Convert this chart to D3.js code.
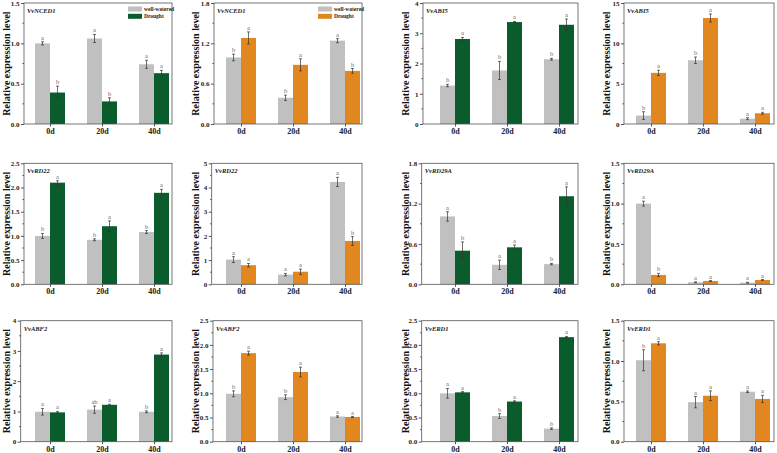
<!DOCTYPE html>
<html>
<head>
<meta charset="utf-8">
<script src="https://cdn.jsdelivr.net/npm/d3@7"></script>
<style>
  body { margin: 0; background: #fff; }
  text { font-family: "Liberation Serif", "Times New Roman", serif; }
</style>
</head>
<body>
<div id="chart"></div>
<script>
var W = 777, H = 453;

var categories = ["0d", "20d", "40d"];
var genes = ["VvNCED1", "VvNCED1", "VvABI5", "VvABI5",
             "VvRD22", "VvRD22", "VvRD29A", "VvRD29A",
             "VvABF2", "VvABF2", "VvERD1", "VvERD1"];
// which panels use the orange (true) or green (false) drought colour
var orangeDrought = [false, true, false, true, false, true, false, true, false, true, false, true];

var yMax = [1.5, 1.8, 4, 15, 2.5, 5, 1.8, 1.5, 4, 2.5, 2.5, 1.5];
var yTicks = [
    ["0.0", "0.5", "1.0", "1.5"], ["0.0", "0.6", "1.2", "1.8"], ["0", "1", "2", "3", "4"], ["0", "5", "10", "15"],
    ["0.0", "0.5", "1.0", "1.5", "2.0", "2.5"], ["0", "1", "2", "3", "4", "5"], ["0.0", "0.6", "1.2", "1.8"], ["0.0", "0.5", "1.0", "1.5"],
    ["0", "1", "2", "3", "4"], ["0.0", "0.5", "1.0", "1.5", "2.0", "2.5"], ["0.0", "0.5", "1.0", "1.5", "2.0", "2.5"], ["0.0", "0.5", "1.0", "1.5"]
];

var wellWatered = [
    [1.00, 1.06, 0.74], [0.99, 0.39, 1.24], [1.27, 1.77, 2.14], [1.04, 7.90, 0.66],
    [1.00, 0.92, 1.08], [1.02, 0.40, 4.23], [1.01, 0.29, 0.30], [1.00, 0.025, 0.02],
    [0.99, 1.06, 0.99], [0.99, 0.92, 0.52], [1.00, 0.53, 0.27], [1.01, 0.49, 0.62]
];
var wellWateredErr = [
    [0.02, 0.05, 0.05], [0.05, 0.04, 0.03], [0.04, 0.30, 0.03], [0.48, 0.40, 0.12],
    [0.05, 0.02, 0.03], [0.12, 0.05, 0.19], [0.07, 0.07, 0.01], [0.03, 0.005, 0.005],
    [0.11, 0.12, 0.03], [0.06, 0.05, 0.015], [0.10, 0.05, 0.015], [0.13, 0.07, 0.01]
];
var drought = [
    [0.39, 0.28, 0.63], [1.28, 0.88, 0.79], [2.81, 3.37, 3.28], [6.34, 13.14, 1.33],
    [2.10, 1.20, 1.89], [0.79, 0.52, 1.79], [0.50, 0.55, 1.31], [0.116, 0.041, 0.054],
    [0.97, 1.22, 2.88], [1.83, 1.44, 0.51], [1.02, 0.83, 2.16], [1.22, 0.57, 0.53]
];
var droughtErr = [
    [0.08, 0.045, 0.035], [0.09, 0.09, 0.035], [0.05, 0.02, 0.19], [0.33, 0.50, 0.12],
    [0.04, 0.11, 0.07], [0.07, 0.11, 0.18], [0.13, 0.035, 0.14], [0.02, 0.005, 0.005],
    [0.03, 0.02, 0.055], [0.04, 0.10, 0.01], [0.015, 0.015, 0.015], [0.02, 0.06, 0.045]
];
var wwLetters = [
    ["a", "a", "a"], ["b", "b", "a"], ["b", "b", "b"], ["b", "b", "a"],
    ["b", "b", "b"], ["a", "a", "a"], ["a", "a", "b"], ["a", "a", "a"],
    ["a", "ab", "b"], ["b", "b", "a"], ["a", "b", "b"], ["b", "a", "a"]
];
var drLetters = [
    ["b", "b", "a"], ["a", "a", "b"], ["a", "a", "a"], ["a", "a", "a"],
    ["a", "a", "a"], ["a", "a", "b"], ["b", "a", "a"], ["b", "a", "a"],
    ["a", "a", "a"], ["a", "a", "a"], ["a", "a", "a"], ["a", "a", "a"]
];
var legendLabels = ["well-watered", "Drought"];

var grayColor = "#c0c0c0";
var greenColor = "#0b5c2c";
var orangeColor = "#e2861f";

// panel frames (pixel layout)
var rowTop = [3, 163.3, 320.7];
var rowBottom = [124, 284.3, 441.7];
var colLeft = [[24, 214, 423, 624], [24, 211.7, 421.7, 624], [20.7, 213, 421.7, 624]];
var colRight = [172, 362, 578, 774];
var colCenter0 = [50, 241, 455, 651];
var titleX = [9.5, 199, 409, 610];
var barW = 15;

var svg = d3.select("#chart").append("svg")
    .attr("width", W)
    .attr("height", H);

genes.forEach(function (g, p) {
    var row = Math.floor(p / 4), col = p % 4;
    var left = colLeft[row][col], right = colRight[col];
    var top = rowTop[row], bottom = rowBottom[row];

    var xScale = d3.scaleLinear().domain([0, 2]).range([colCenter0[col], colCenter0[col] + 104]);
    var yScale = d3.scaleLinear().domain([0, yMax[p]]).range([bottom, top]);
    var dColor = orangeDrought[p] ? orangeColor : greenColor;

    var panel = svg.append("g");

    // bars
    var groups = [
        { vals: wellWatered[p], errs: wellWateredErr[p], letters: wwLetters[p], color: grayColor, off: -barW },
        { vals: drought[p], errs: droughtErr[p], letters: drLetters[p], color: dColor, off: 0 }
    ];
    groups.forEach(function (s) {
        panel.selectAll(null)
            .data(s.vals)
            .enter().append("rect")
            .attr("x", function (d, i) { return xScale(i) + s.off; })
            .attr("y", function (d) { return yScale(d); })
            .attr("width", barW)
            .attr("height", function (d) { return bottom - yScale(d); })
            .attr("fill", s.color);

        var eb = panel.selectAll(null)
            .data(s.vals)
            .enter().append("g")
            .attr("stroke", "#333")
            .attr("stroke-width", 0.7);
        eb.append("line")
            .attr("x1", function (d, i) { return xScale(i) + s.off + barW / 2; })
            .attr("x2", function (d, i) { return xScale(i) + s.off + barW / 2; })
            .attr("y1", function (d, i) { return yScale(d - s.errs[i]); })
            .attr("y2", function (d, i) { return yScale(d + s.errs[i]); });
        [-1, 1].forEach(function (sg) {
            eb.append("line")
                .attr("x1", function (d, i) { return xScale(i) + s.off + barW / 2 - 1.5; })
                .attr("x2", function (d, i) { return xScale(i) + s.off + barW / 2 + 1.5; })
                .attr("y1", function (d, i) { return yScale(d + sg * s.errs[i]); })
                .attr("y2", function (d, i) { return yScale(d + sg * s.errs[i]); });
        });

        panel.selectAll(null)
            .data(s.vals)
            .enter().append("text")
            .attr("x", function (d, i) { return xScale(i) + s.off + barW / 2; })
            .attr("y", function (d, i) { return yScale(d + s.errs[i]) - 2; })
            .attr("text-anchor", "middle")
            .style("font-size", "6.5px")
            .attr("fill", "#666")
            .text(function (d, i) { return s.letters[i]; });
    });

    // frame
    panel.append("rect")
        .attr("x", left).attr("y", top)
        .attr("width", right - left).attr("height", bottom - top)
        .attr("fill", "none")
        .attr("stroke", "#555")
        .attr("stroke-width", 0.8);

    // y axis
    var tickVals = yTicks[p].map(Number);
    var yAxis = d3.axisLeft(yScale)
        .tickValues(tickVals)
        .tickFormat(function (d, i) { return yTicks[p][i]; })
        .tickSize(3)
        .tickPadding(1.5);
    var ya = panel.append("g")
        .attr("transform", "translate(" + left + ",0)")
        .call(yAxis);
    ya.select(".domain").remove();
    ya.selectAll("line").attr("stroke", "#555");
    ya.selectAll("text")
        .style("font-size", "7px")
        .style("font-weight", "bold")
        .style("font-family", "Liberation Serif, serif")
        .attr("fill", "#222");
    var minor = [];
    for (var k = 0; k < tickVals.length - 1; k++) minor.push((tickVals[k] + tickVals[k + 1]) / 2);
    panel.selectAll(null)
        .data(minor)
        .enter().append("line")
        .attr("x1", left - 1.6).attr("x2", left)
        .attr("y1", function (d) { return yScale(d); })
        .attr("y2", function (d) { return yScale(d); })
        .attr("stroke", "#555");

    // x axis labels
    var xAxis = d3.axisBottom(xScale)
        .tickValues([0, 1, 2])
        .tickFormat(function (d) { return categories[d]; })
        .tickSize(2.5)
        .tickPadding(2);
    var xa = panel.append("g")
        .attr("transform", "translate(0," + bottom + ")")
        .call(xAxis);
    xa.select(".domain").remove();
    xa.selectAll("line").attr("stroke", "#555");
    xa.selectAll("text")
        .style("font-size", "8px")
        .style("font-weight", "bold")
        .style("font-family", "Liberation Serif, serif")
        .attr("fill", "#222");

    // y title
    panel.append("text")
        .attr("transform", "translate(" + titleX[col] + "," + ((top + bottom) / 2) + ")rotate(-90)")
        .attr("text-anchor", "middle")
        .style("font-size", "10px")
        .style("font-weight", "bold")
        .attr("fill", "#111")
        .text("Relative expression level");

    // gene name
    panel.append("text")
        .attr("x", left + 3)
        .attr("y", top + 10)
        .style("font-size", "6.5px")
        .style("font-weight", "bold")
        .style("font-style", "italic")
        .attr("fill", "#222")
        .text(g);

    // legend (first row, first two panels)
    if (p < 2) {
        var lx = right - 44;
        [grayColor, dColor].forEach(function (c, i) {
            panel.append("rect")
                .attr("x", lx).attr("y", top + 3.5 + i * 7.3)
                .attr("width", 14).attr("height", 5)
                .attr("fill", c);
            panel.append("text")
                .attr("x", lx + 16).attr("y", top + 8 + i * 7.3)
                .style("font-size", "5.5px")
                .style("font-weight", "bold")
                .attr("fill", "#222")
                .text(legendLabels[i]);
        });
    }
});
</script>
</body>
</html>
